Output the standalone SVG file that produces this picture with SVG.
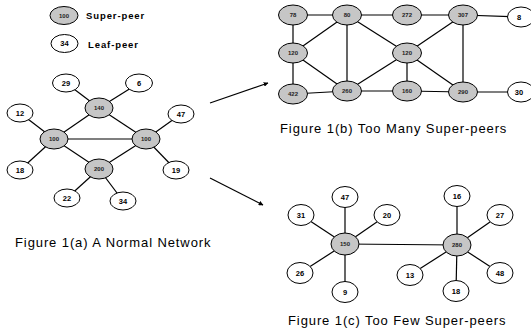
<svg xmlns="http://www.w3.org/2000/svg" width="531" height="334" viewBox="0 0 531 334">
<defs>
<style>
.sp{fill:#c6c6c6;stroke:#000;stroke-width:1}
.lf{fill:#fff;stroke:#000;stroke-width:1}
.st{font-family:"Liberation Sans",Arial,sans-serif;font-weight:bold;font-size:6px;text-anchor:middle;fill:#222}
.lt{font-family:"Liberation Sans",Arial,sans-serif;font-weight:bold;font-size:7.5px;text-anchor:middle;fill:#000}
.cap{font-family:"Liberation Sans",Arial,sans-serif;font-size:13px;letter-spacing:0.9px;fill:#000}
.leg{font-family:"Liberation Sans",Arial,sans-serif;font-weight:bold;font-size:9.5px;letter-spacing:0.9px;fill:#000}
.e line{stroke:#000;stroke-width:1.2}
</style>
<marker id="ah" viewBox="0 0 10 10" refX="9" refY="5" markerWidth="4" markerHeight="4" orient="auto" markerUnits="strokeWidth">
<path d="M0,0 L10,5 L0,10 z" fill="#000"/>
</marker>
</defs>
<rect width="531" height="334" fill="#fff"/>

<g id="legend">
<ellipse class="sp" cx="64" cy="15.5" rx="14" ry="9"/><text class="st" x="64" y="17.5">100</text>
<text class="leg" x="86" y="19">Super-peer</text>
<ellipse class="lf" cx="64.5" cy="43.5" rx="13.5" ry="9"/><text class="lt" x="64.5" y="46.3">34</text>
<text class="leg" x="88" y="48">Leaf-peer</text>
</g>

<g id="connectors" class="e">
<line x1="66" y1="83" x2="99" y2="108"/>
<line x1="139" y1="83" x2="99" y2="108"/>
<line x1="99" y1="108" x2="54" y2="139"/>
<line x1="99" y1="108" x2="146" y2="139"/>
<line x1="54" y1="139" x2="146" y2="139"/>
<line x1="54" y1="139" x2="99" y2="169"/>
<line x1="146" y1="139" x2="99" y2="169"/>
<line x1="20" y1="113" x2="54" y2="139"/>
<line x1="20" y1="170" x2="54" y2="139"/>
<line x1="181" y1="114" x2="146" y2="139"/>
<line x1="176" y1="170" x2="146" y2="139"/>
<line x1="99" y1="169" x2="67" y2="198"/>
<line x1="99" y1="169" x2="123" y2="201"/>
<line x1="293" y1="15" x2="347" y2="15"/>
<line x1="347" y1="15" x2="407" y2="15"/>
<line x1="407" y1="15" x2="463" y2="15"/>
<line x1="463" y1="15" x2="520" y2="17"/>
<line x1="293" y1="15" x2="293" y2="53"/>
<line x1="293" y1="53" x2="347" y2="15"/>
<line x1="293" y1="53" x2="293" y2="94"/>
<line x1="293" y1="53" x2="347" y2="91"/>
<line x1="347" y1="15" x2="347" y2="91"/>
<line x1="347" y1="15" x2="407" y2="53"/>
<line x1="463" y1="15" x2="407" y2="53"/>
<line x1="463" y1="15" x2="463" y2="92"/>
<line x1="407" y1="53" x2="347" y2="91"/>
<line x1="407" y1="53" x2="407" y2="91"/>
<line x1="407" y1="53" x2="463" y2="92"/>
<line x1="293" y1="94" x2="347" y2="91"/>
<line x1="347" y1="91" x2="407" y2="91"/>
<line x1="407" y1="91" x2="463" y2="92"/>
<line x1="463" y1="92" x2="519" y2="92"/>
<line x1="345" y1="244" x2="457" y2="245"/>
<line x1="345" y1="244" x2="345" y2="197"/>
<line x1="345" y1="244" x2="301" y2="215"/>
<line x1="345" y1="244" x2="387" y2="215"/>
<line x1="345" y1="244" x2="300" y2="273"/>
<line x1="345" y1="244" x2="345" y2="292"/>
<line x1="457" y1="245" x2="457" y2="196"/>
<line x1="457" y1="245" x2="500" y2="215"/>
<line x1="457" y1="245" x2="410" y2="275"/>
<line x1="457" y1="245" x2="456" y2="291"/>
<line x1="457" y1="245" x2="500" y2="273"/>
<line x1="210" y1="103" x2="268" y2="83" stroke-width="2.2" marker-end="url(#ah)"/>
<line x1="210" y1="178" x2="263" y2="205" stroke-width="2.2" marker-end="url(#ah)"/>
</g>

<g id="a29"><ellipse class="lf" cx="66" cy="83" rx="13.5" ry="9"/><text class="lt" x="66" y="85.8">29</text></g>
<g id="a6"><ellipse class="lf" cx="139" cy="83" rx="13.5" ry="9"/><text class="lt" x="139" y="85.8">6</text></g>
<g id="a140"><ellipse class="sp" cx="99" cy="108" rx="14" ry="10"/><text class="st" x="99" y="110">140</text></g>
<g id="a12"><ellipse class="lf" cx="20" cy="113" rx="13" ry="9"/><text class="lt" x="20" y="115.8">12</text></g>
<g id="a47"><ellipse class="lf" cx="181" cy="114" rx="13" ry="9"/><text class="lt" x="181" y="116.8">47</text></g>
<g id="a100l"><ellipse class="sp" cx="54" cy="139" rx="14" ry="10"/><text class="st" x="54" y="141">100</text></g>
<g id="a100r"><ellipse class="sp" cx="146" cy="139" rx="14" ry="10"/><text class="st" x="146" y="141">100</text></g>
<g id="a18"><ellipse class="lf" cx="20" cy="170" rx="13" ry="9"/><text class="lt" x="20" y="172.8">18</text></g>
<g id="a19"><ellipse class="lf" cx="176" cy="170" rx="13" ry="9"/><text class="lt" x="176" y="172.8">19</text></g>
<g id="a200"><ellipse class="sp" cx="99" cy="169" rx="14" ry="10"/><text class="st" x="99" y="171">200</text></g>
<g id="a22"><ellipse class="lf" cx="67" cy="198" rx="13" ry="9"/><text class="lt" x="67" y="200.8">22</text></g>
<g id="a34"><ellipse class="lf" cx="123" cy="201" rx="13" ry="9"/><text class="lt" x="123" y="203.8">34</text></g>
<text class="cap" x="15" y="247">Figure 1(a) A Normal Network</text>

<g id="b78"><ellipse class="sp" cx="293" cy="15" rx="14.5" ry="10"/><text class="st" x="293" y="17">78</text></g>
<g id="b80"><ellipse class="sp" cx="347" cy="15" rx="14.5" ry="10"/><text class="st" x="347" y="17">80</text></g>
<g id="b272"><ellipse class="sp" cx="407" cy="15" rx="14.5" ry="10"/><text class="st" x="407" y="17">272</text></g>
<g id="b307"><ellipse class="sp" cx="463" cy="15" rx="14.5" ry="10"/><text class="st" x="463" y="17">307</text></g>
<g id="b8"><ellipse class="lf" cx="521" cy="17" rx="13.5" ry="10"/><text class="lt" x="519" y="19.8">8</text></g>
<g id="b120l"><ellipse class="sp" cx="293" cy="53" rx="14.5" ry="10"/><text class="st" x="293" y="55">120</text></g>
<g id="b120r"><ellipse class="sp" cx="407" cy="53" rx="14.5" ry="10"/><text class="st" x="407" y="55">120</text></g>
<g id="b422"><ellipse class="sp" cx="293" cy="94" rx="14.5" ry="10"/><text class="st" x="293" y="96">422</text></g>
<g id="b260"><ellipse class="sp" cx="347" cy="91" rx="14.5" ry="10"/><text class="st" x="347" y="93">260</text></g>
<g id="b160"><ellipse class="sp" cx="407" cy="91" rx="14.5" ry="10"/><text class="st" x="407" y="93">160</text></g>
<g id="b290"><ellipse class="sp" cx="463" cy="92" rx="14.5" ry="10"/><text class="st" x="463" y="94">290</text></g>
<g id="b30"><ellipse class="lf" cx="521" cy="92" rx="13.5" ry="10"/><text class="lt" x="519" y="94.8">30</text></g>
<text class="cap" x="280" y="133">Figure 1(b) Too Many Super-peers</text>

<g id="c150"><ellipse class="sp" cx="345" cy="244" rx="14" ry="11"/><text class="st" x="345" y="246">150</text></g>
<g id="c280"><ellipse class="sp" cx="457" cy="245" rx="14" ry="11"/><text class="st" x="457" y="247">280</text></g>
<g id="c47"><ellipse class="lf" cx="345" cy="197" rx="13" ry="10.5"/><text class="lt" x="345" y="199.8">47</text></g>
<g id="c31"><ellipse class="lf" cx="301" cy="215" rx="13" ry="10.5"/><text class="lt" x="301" y="217.8">31</text></g>
<g id="c20"><ellipse class="lf" cx="387" cy="215" rx="13" ry="10.5"/><text class="lt" x="387" y="217.8">20</text></g>
<g id="c26"><ellipse class="lf" cx="300" cy="273" rx="13" ry="10.5"/><text class="lt" x="300" y="275.8">26</text></g>
<g id="c9"><ellipse class="lf" cx="345" cy="292" rx="13" ry="10.5"/><text class="lt" x="345" y="294.8">9</text></g>
<g id="c16"><ellipse class="lf" cx="457" cy="196" rx="13" ry="10.5"/><text class="lt" x="457" y="198.8">16</text></g>
<g id="c27"><ellipse class="lf" cx="500" cy="215" rx="13" ry="10.5"/><text class="lt" x="500" y="217.8">27</text></g>
<g id="c13"><ellipse class="lf" cx="410" cy="275" rx="13" ry="10.5"/><text class="lt" x="410" y="277.8">13</text></g>
<g id="c18"><ellipse class="lf" cx="456" cy="291" rx="13" ry="10.5"/><text class="lt" x="456" y="293.8">18</text></g>
<g id="c48"><ellipse class="lf" cx="500" cy="273" rx="13" ry="10.5"/><text class="lt" x="500" y="275.8">48</text></g>
<text class="cap" x="288" y="325">Figure 1(c) Too Few Super-peers</text>
</svg>
